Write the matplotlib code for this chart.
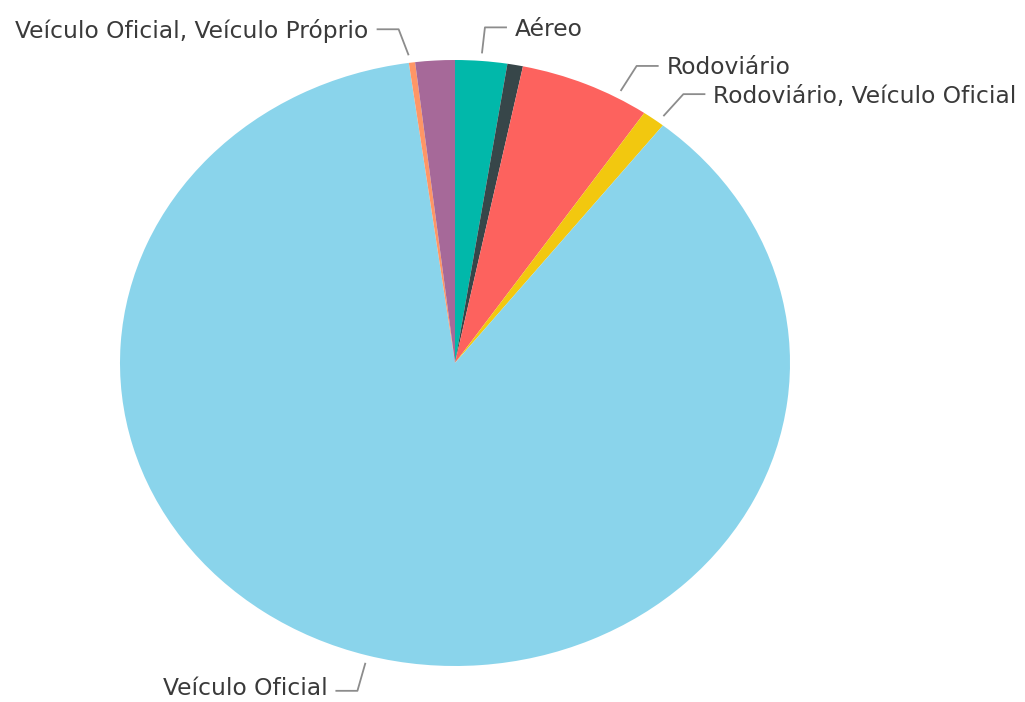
import numpy as np
import matplotlib
matplotlib.use("Agg")
import matplotlib.pyplot as plt

# slices, clockwise from 12 o'clock (percent of total)
categories = ["Aéreo", "Aéreo, Rodoviário", "Rodoviário", "Rodoviário, Veículo Oficial",
              "Veículo Oficial", "Veículo Oficial, Veículo Próprio", "Veículo Próprio"]
shares = [2.5, 0.75, 6.3, 1.1, 87.1, 0.3, 1.9]
colors = ["#01B8AA", "#374649", "#FD625E", "#F2C80F", "#8AD4EB", "#FE9666", "#A66999"]
shown = [True, False, True, True, True, True, False]

# layout (pixels) -----------------------------------------------------------
W, H = 1025, 702
CX, CY, RX, RY = 455, 363, 335, 303
# per-label: angle shift (deg), elbow offset (dx, dy) in px, side, text nudge (px)
leader = {
    "Aéreo": (0.0, (3, -26), 1, 2),
    "Rodoviário": (5.8, (16, -25), 1, 2),
    "Rodoviário, Veículo Oficial": (1.0, (20, -22), 1, 2),
    "Veículo Oficial": (0.0, (-8, 28), -1, -2),
    "Veículo Oficial, Veículo Próprio": (-0.2, (-10, -26), -1, 2),
}


def px(x, y):
    return (x - CX) / RX, (CY - y) / RY


def topx(u, v):
    return CX + u * RX, CY - v * RY


fig = plt.figure(figsize=(W / 100, H / 100), dpi=100)
ax = fig.add_axes([0, 0, 1, 1])
wedges, _ = ax.pie(shares, colors=colors, startangle=90, counterclock=False,
                   wedgeprops=dict(linewidth=0))
ax.set_aspect("auto")
ax.set_xlim(px(0, 0)[0], px(W, 0)[0])
ax.set_ylim(px(0, H)[1], px(0, 0)[1])
ax.axis("off")

cum = np.cumsum([0] + shares)
for i, name in enumerate(categories):
    if not shown[i]:
        continue
    shift, (dx, dy), side, nudge = leader[name]
    mid = np.deg2rad((cum[i] + cum[i + 1]) / 2 * 3.6 + shift)
    x0, y0 = topx(1.025 * np.sin(mid), 1.025 * np.cos(mid))
    x1, y1 = x0 + dx, y0 + dy
    x2 = x1 + 22 * side
    xs, ys = zip(*[px(x0, y0), px(x1, y1), px(x2, y1)])
    ax.plot(xs, ys, color="#8c8c8c", lw=1.3, solid_capstyle="butt")
    tx, ty = px(x2 + 8 * side, y1 + nudge)
    ax.text(tx, ty, name, ha="left" if side > 0 else "right", va="center",
            fontsize=16.8, family="DejaVu Sans", color="#3a3a3a")

fig.savefig("out.png", dpi=100)
